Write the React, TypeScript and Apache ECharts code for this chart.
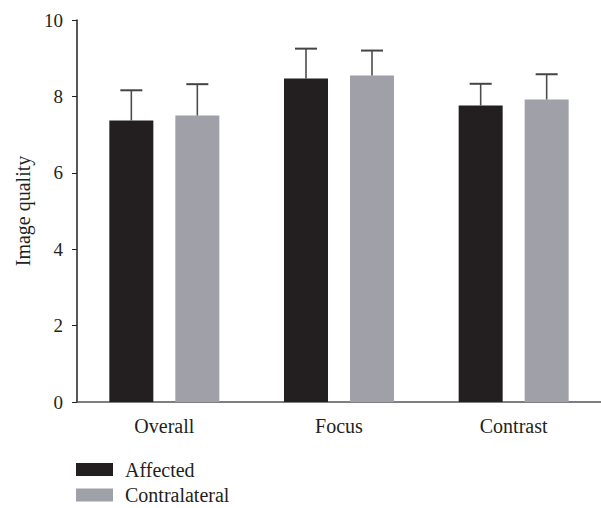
import React, { useEffect, useRef } from "react";
import * as echarts from "echarts";

const categories = ["Overall", "Focus", "Contrast"];
const affected = [7.37, 8.47, 7.76];
const affectedErrTop = [8.16, 9.25, 8.33];
const contralateral = [7.5, 8.55, 7.92];
const contralateralErrTop = [8.32, 9.2, 8.58];
const yTicks = { min: 0, max: 10, interval: 2 };

const DARK = "#231f20";
const GREY = "#a0a0a8";
const FONT = "Liberation Serif";

const BAR_W = 44;
const OFFSET = 33;

function errorRender(sign: number) {
  return (params: any, api: any) => {
    const x = api.value(0);
    const v = api.value(1);
    const t = api.value(2);
    const base = api.coord([x, v]);
    const top = api.coord([x, t]);
    const cx = base[0] + sign * OFFSET;
    return {
      type: "group",
      children: [
        {
          type: "line",
          shape: { x1: cx, y1: base[1], x2: cx, y2: top[1] },
          style: { stroke: "#4d4d4d", lineWidth: 1.6 },
        },
        {
          type: "line",
          shape: { x1: cx - 11, y1: top[1], x2: cx + 11, y2: top[1] },
          style: { stroke: "#444444", lineWidth: 2 },
        },
      ],
    };
  };
}

const legendText = {
  fontFamily: FONT,
  fontSize: 20,
  lineHeight: 14,
  color: DARK,
  padding: [2, 0, 0, 7],
};

export default function App() {
  const ref = useRef<HTMLDivElement>(null);
  useEffect(() => {
    document.body.style.margin = "0";
    const chart = echarts.init(ref.current!, undefined, { renderer: "svg" });
    chart.setOption({
      animation: false,
      backgroundColor: "#ffffff",
      textStyle: { fontFamily: FONT },
      grid: { left: 77, right: 0, top: 20, bottom: 106 },
      legend: [
        {
          left: 76,
          top: 459.5,
          padding: 0,
          itemWidth: 37,
          itemHeight: 13,
          icon: "rect",
          data: ["Affected"],
          textStyle: legendText,
        },
        {
          left: 76,
          top: 485,
          padding: 0,
          itemWidth: 37,
          itemHeight: 13,
          icon: "rect",
          data: ["Contralateral"],
          textStyle: legendText,
        },
      ],
      xAxis: {
        type: "category",
        data: categories,
        axisLine: { lineStyle: { color: "#555555", width: 1.5 } },
        axisTick: { alignWithLabel: true, length: 5, lineStyle: { color: "#333333" } },
        axisLabel: { fontFamily: FONT, fontSize: 20, color: DARK, margin: 14 },
      },
      yAxis: {
        type: "value",
        min: yTicks.min,
        max: yTicks.max,
        interval: yTicks.interval,
        name: "Image quality",
        nameLocation: "middle",
        nameGap: 43,
        nameTextStyle: { fontFamily: FONT, fontSize: 20, color: DARK },
        axisLine: { show: true, lineStyle: { color: DARK, width: 1.5 } },
        axisTick: { show: true, length: 5, lineStyle: { color: DARK } },
        splitLine: { show: false },
        axisLabel: { fontFamily: FONT, fontSize: 19, color: DARK, margin: 14 },
      },
      series: [
        {
          name: "Affected",
          type: "bar",
          data: affected,
          barWidth: BAR_W,
          barGap: "50%",
          itemStyle: { color: DARK },
        },
        {
          name: "Contralateral",
          type: "bar",
          data: contralateral,
          barWidth: BAR_W,
          barGap: "50%",
          itemStyle: { color: GREY },
        },
        {
          type: "custom",
          renderItem: errorRender(-1),
          data: affected.map((v, i) => [i, v, affectedErrTop[i]]),
          z: 10,
        },
        {
          type: "custom",
          renderItem: errorRender(1),
          data: contralateral.map((v, i) => [i, v, contralateralErrTop[i]]),
          z: 10,
        },
      ],
    });
    return () => chart.dispose();
  }, []);
  return (
    <div
      ref={ref}
      style={{ position: "absolute", left: 0, top: 0, width: 601, height: 508 }}
    />
  );
}
